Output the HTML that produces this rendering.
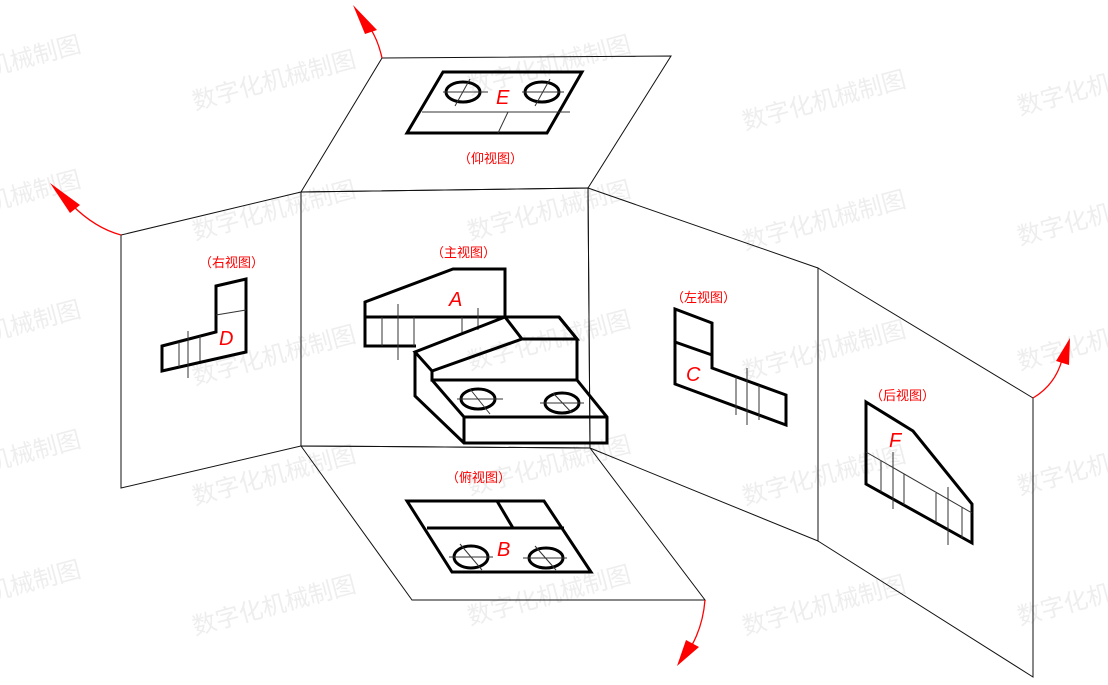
<!DOCTYPE html>
<html><head><meta charset="utf-8">
<style>
html,body{margin:0;padding:0;background:#fff;}
svg{display:block;}
.wm{font-family:"Liberation Sans","Noto Sans CJK SC",sans-serif;font-size:24px;fill:#eeeeee;}
.lb{font-family:"Liberation Sans","Noto Sans CJK SC",sans-serif;font-size:13px;fill:#f00;}
.lt{font-family:"Liberation Sans",sans-serif;font-size:20px;fill:#f00;font-style:italic;}
.p{fill:none;stroke:#111;stroke-width:1;}
.k{fill:none;stroke:#000;stroke-width:3;stroke-linejoin:miter;}
.t{fill:none;stroke:#333;stroke-width:1;}
</style></head>
<body>
<svg width="1108" height="685" viewBox="0 0 1108 685" xmlns="http://www.w3.org/2000/svg">
<g class="wm">
<text transform="translate(-80,95) rotate(-15)">数字化机械制图</text>
<text transform="translate(195,110) rotate(-15)">数字化机械制图</text>
<text transform="translate(470,95) rotate(-15)">数字化机械制图</text>
<text transform="translate(745,130) rotate(-15)">数字化机械制图</text>
<text transform="translate(1020,115) rotate(-15)">数字化机械制图</text>
<text transform="translate(-80,230) rotate(-15)">数字化机械制图</text>
<text transform="translate(195,240) rotate(-15)">数字化机械制图</text>
<text transform="translate(470,240) rotate(-15)">数字化机械制图</text>
<text transform="translate(745,250) rotate(-15)">数字化机械制图</text>
<text transform="translate(1020,245) rotate(-15)">数字化机械制图</text>
<text transform="translate(-80,360) rotate(-15)">数字化机械制图</text>
<text transform="translate(195,385) rotate(-15)">数字化机械制图</text>
<text transform="translate(470,370) rotate(-15)">数字化机械制图</text>
<text transform="translate(745,380) rotate(-15)">数字化机械制图</text>
<text transform="translate(1020,370) rotate(-15)">数字化机械制图</text>
<text transform="translate(-80,490) rotate(-15)">数字化机械制图</text>
<text transform="translate(195,505) rotate(-15)">数字化机械制图</text>
<text transform="translate(470,495) rotate(-15)">数字化机械制图</text>
<text transform="translate(745,505) rotate(-15)">数字化机械制图</text>
<text transform="translate(1020,495) rotate(-15)">数字化机械制图</text>
<text transform="translate(-80,620) rotate(-15)">数字化机械制图</text>
<text transform="translate(195,635) rotate(-15)">数字化机械制图</text>
<text transform="translate(470,625) rotate(-15)">数字化机械制图</text>
<text transform="translate(745,635) rotate(-15)">数字化机械制图</text>
<text transform="translate(1020,625) rotate(-15)">数字化机械制图</text>
</g>

<polygon class="p" points="301,192 588,188 590,448 301,446"/>
<polygon class="p" points="301,192 382,58 671,56 588,188"/>
<polygon class="p" points="301,192 121,235 121,488 301,446"/>
<polygon class="p" points="301,446 412,600 705,600 590,448"/>
<polygon class="p" points="588,188 818,268 818,541 590,448"/>
<polygon class="p" points="818,268 1033,398 1033,677 818,541"/>

<g stroke="#f00" stroke-width="1.3" fill="none">
<path d="M382,58 Q378,40 370,28"/>
<path d="M121,235 Q95,228 72,205"/>
<path d="M705,600 Q703,625 692,645"/>
<path d="M1033,398 Q1055,385 1062,360"/>
</g>
<g fill="#f00">
<polygon points="353,5 377,30 365,34"/>
<polygon points="50,183 80,205 70,213"/>
<polygon points="677,666 686,640 699,647"/>
<polygon points="1070,338 1069,365 1056,361"/>
</g>

<text class="lb" x="458" y="163">（仰视图）</text>
<text class="lb" x="199" y="267">（右视图）</text>
<text class="lb" x="431" y="257">（主视图）</text>
<text class="lb" x="671" y="302">（左视图）</text>
<text class="lb" x="870" y="400">（后视图）</text>
<text class="lb" x="446" y="482">（俯视图）</text>
<text class="lt" x="496" y="104">E</text>
<text class="lt" x="219" y="345">D</text>
<text class="lt" x="449" y="306">A</text>
<text class="lt" x="686" y="381">C</text>
<text class="lt" x="889" y="447">F</text>
<text class="lt" x="497" y="556">B</text>

<polygon class="k" points="443,72 582,72 547,133 407,133"/>
<line class="t" x1="422" y1="112" x2="570" y2="112"/>
<line class="t" x1="508" y1="112" x2="498" y2="133"/>
<ellipse class="k" cx="463" cy="92" rx="17" ry="10"/>
<ellipse class="k" cx="542" cy="92" rx="17" ry="10"/>
<line class="t" x1="443" y1="92" x2="488" y2="92"/><line class="t" x1="470" y1="79" x2="455" y2="106"/>
<line class="t" x1="522" y1="92" x2="564" y2="92"/><line class="t" x1="550" y1="79" x2="535" y2="106"/>

<polygon class="k" points="162,346 216,332 216,286 246,279 246,352 162,371"/>
<line class="t" x1="216" y1="315" x2="246" y2="310"/>
<line class="t" x1="179" y1="342" x2="179" y2="367"/>
<line class="t" x1="200" y1="336" x2="200" y2="361"/>
<line class="t" x1="188" y1="331" x2="188" y2="378"/>

<polygon class="k" points="365,302 453,269 505,269 505,317 365,317"/>
<polyline class="k" points="365,317 365,346 416,346"/>
<line class="t" x1="382" y1="317" x2="382" y2="346"/>
<line class="t" x1="414" y1="317" x2="414" y2="346"/>
<line class="t" x1="462" y1="317" x2="462" y2="334"/>
<line class="t" x1="398" y1="304" x2="398" y2="360"/>
<line class="t" x1="478" y1="308" x2="478" y2="330"/>
<polygon class="k" points="505,317 559,317 577,339 522,339"/>
<polyline class="k" points="505,317 415,352 432,371 522,339"/>
<polyline class="k" points="559,317 577,339 577,380"/>
<polyline class="k" points="432,371 432,380 577,380 607,417 607,443 464,443 415,396 415,352"/>
<polyline class="k" points="432,380 464,417 607,417"/>
<line class="k" x1="464" y1="417" x2="464" y2="443"/>
<ellipse class="k" cx="478" cy="399" rx="17" ry="10"/>
<ellipse class="k" cx="562" cy="403" rx="17" ry="10"/>
<line class="t" x1="457" y1="399" x2="503" y2="399"/><line class="t" x1="470" y1="389" x2="490" y2="414"/>
<line class="t" x1="540" y1="403" x2="584" y2="403"/><line class="t" x1="553" y1="393" x2="572" y2="413"/>

<polygon class="k" points="675,309 712,323 712,368 786,395 786,425 675,384"/>
<line class="k" x1="675" y1="342" x2="712" y2="355"/>
<line class="t" x1="736" y1="377" x2="736" y2="415"/>
<line class="t" x1="759" y1="385" x2="759" y2="420"/>
<line class="t" x1="747" y1="368" x2="747" y2="425"/>

<polygon class="k" points="866,402 913,431 972,504 972,543 866,484"/>
<line class="t" x1="866" y1="452" x2="972" y2="513"/>
<line class="t" x1="881" y1="461" x2="881" y2="492"/>
<line class="t" x1="904" y1="474" x2="904" y2="505"/>
<line class="t" x1="936" y1="493" x2="936" y2="523"/>
<line class="t" x1="962" y1="507" x2="962" y2="538"/>
<line class="t" x1="893" y1="452" x2="893" y2="509"/>
<line class="t" x1="948" y1="487" x2="948" y2="545"/>

<polygon class="k" points="407,501 544,501 591,572 452,572"/>
<line class="k" x1="427" y1="528" x2="564" y2="528"/>
<line class="k" x1="497" y1="501" x2="513" y2="528"/>
<ellipse class="k" cx="471" cy="557" rx="17" ry="11"/>
<ellipse class="k" cx="546" cy="558" rx="17" ry="10"/>
<line class="t" x1="449" y1="557" x2="493" y2="557"/><line class="t" x1="460" y1="544" x2="482" y2="570"/>
<line class="t" x1="523" y1="558" x2="567" y2="558"/><line class="t" x1="535" y1="546" x2="556" y2="570"/>
</svg>
</body></html>
